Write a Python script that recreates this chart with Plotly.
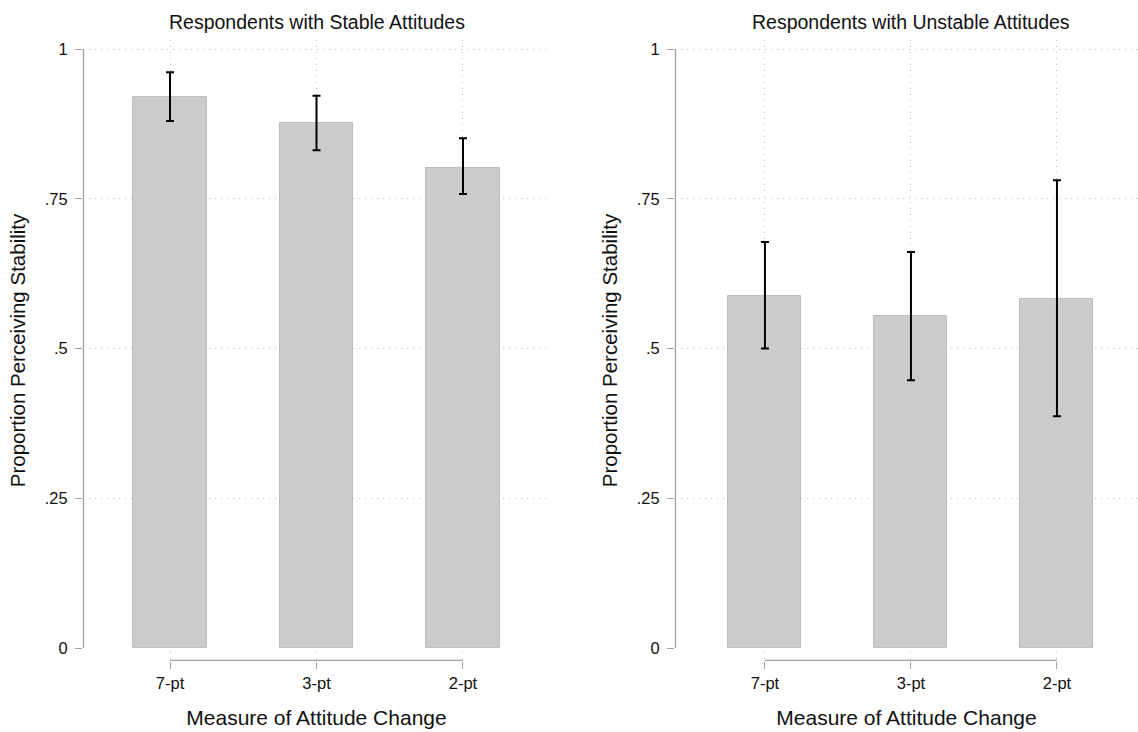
import plotly.graph_objects as go

# ---- data ----
categories = ["7-pt", "3-pt", "2-pt"]
cat_pos = [0, 1, 2]

stable_mean = [0.920, 0.876, 0.801]
stable_hi = [0.961, 0.922, 0.851]
stable_lo = [0.880, 0.831, 0.758]

unstable_mean = [0.588, 0.554, 0.582]
unstable_hi = [0.678, 0.661, 0.781]
unstable_lo = [0.500, 0.447, 0.387]

panel_titles = ["Respondents with Stable Attitudes", "Respondents with Unstable Attitudes"]
y_ticks = [0, 0.25, 0.5, 0.75, 1]
y_ticktext = ["0", ".25", ".5", ".75", "1"]

FONT = "Liberation Sans, Arial, Helvetica, sans-serif"
BAR_FILL = "#cccccc"
BAR_EDGE = "#bdbdbd"
AXIS_COL = "#a0a0a0"
GRID_COL = "#bdbdbd"

fig = go.Figure()

panels = [
    (stable_mean, stable_hi, stable_lo, "x", "y"),
    (unstable_mean, unstable_hi, unstable_lo, "x2", "y2"),
]
for mean, hi, lo, xa, ya in panels:
    fig.add_trace(go.Bar(
        x=cat_pos, y=mean, width=0.5,
        marker=dict(color=BAR_FILL, line=dict(color=BAR_EDGE, width=1)),
        error_y=dict(type="data", symmetric=False,
                     array=[h - m for h, m in zip(hi, mean)],
                     arrayminus=[m - l for m, l in zip(mean, lo)],
                     color="black", thickness=2, width=4),
        xaxis=xa, yaxis=ya, showlegend=False, hoverinfo="skip",
    ))

y_range = [-13 / 599, 1 + 9 / 599]

common_x = dict(
    tickmode="array", tickvals=cat_pos, ticktext=categories,
    showline=False, zeroline=False, showgrid=True,
    gridcolor=GRID_COL, griddash="1px,5px", gridwidth=1,
    ticks="outside", ticklen=7, tickwidth=1.2, tickcolor=AXIS_COL,
    tickfont=dict(family=FONT, size=16.5, color="#111111"),
    title=dict(text="Measure of Attitude Change",
               font=dict(family=FONT, size=21, color="#111111"), standoff=19),
    fixedrange=True,
)
common_y = dict(
    range=y_range, tickmode="array", tickvals=y_ticks, ticktext=y_ticktext,
    showline=False, showgrid=True,
    gridcolor=GRID_COL, griddash="1px,5px", gridwidth=1,
    zeroline=True, zerolinecolor="rgba(0,0,0,0)", zerolinewidth=1,
    ticks="outside", ticklen=7, tickwidth=1.2, tickcolor=AXIS_COL,
    ticklabelstandoff=4,
    tickfont=dict(family=FONT, size=16.5, color="#111111"),
    title=dict(text="Proportion Perceiving Stability",
               font=dict(family=FONT, size=20.5, color="#111111"), standoff=13),
    fixedrange=True,
)

fig.update_layout(
    width=1138, height=732,
    margin=dict(l=83, r=0, t=40, b=71),
    paper_bgcolor="white", plot_bgcolor="white",
    bargap=0,
    xaxis=dict(domain=[0, 467 / 1055], range=[-0.594, 2.594], anchor="y", **common_x),
    yaxis=dict(domain=[0, 1], anchor="x", **common_y),
    xaxis2=dict(domain=[592 / 1055, 1.0], range=[-0.616, 2.555], anchor="y2", **common_x),
    yaxis2=dict(domain=[0, 1], anchor="x2", **common_y),
)

# axis lines spanning only the data extent (Stata style)
for xa, ya in [("x", "y"), ("x2", "y2")]:
    fig.add_shape(type="line", xref=f"{xa} domain", x0=0.001, x1=0.001,
                  yref=ya, y0=0, y1=1, line=dict(color=AXIS_COL, width=1.3), layer="above")
    fig.add_shape(type="line", xref=xa, x0=cat_pos[0], x1=cat_pos[-1],
                  yref=f"{ya} domain", y0=0.001, y1=0.001,
                  line=dict(color=AXIS_COL, width=1.3), layer="above")

for title, xa in zip(panel_titles, ["x", "x2"]):
    fig.add_annotation(text=title, xref=xa, x=cat_pos[1], yref="paper", y=1,
                       yanchor="middle", yshift=18, showarrow=False,
                       font=dict(family=FONT, size=19.5, color="#111111"))

fig.write_html("out.html")
